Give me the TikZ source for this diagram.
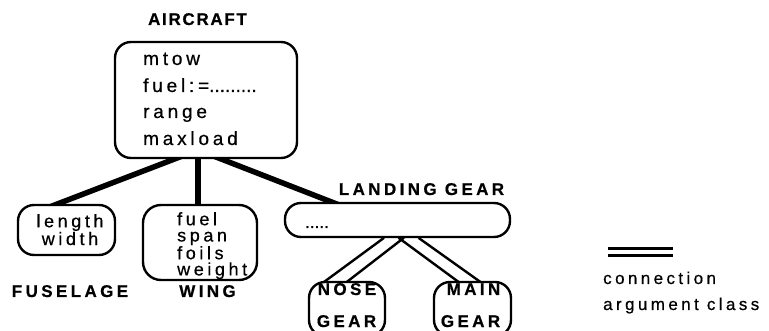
\documentclass[tikz,border=0pt]{standalone}
\usepackage{fontspec}
\setmainfont{Liberation Sans}[LetterSpace=20,FakeBold=0.6]
\newfontfamily\plainfont{Liberation Sans}[FakeBold=0.6]
\usetikzlibrary{calc,backgrounds}
\begin{document}
\begin{tikzpicture}[x=1pt,y=-1pt,
  box/.style={draw, line width=2.4pt, rounded corners=16pt, inner sep=0pt, fill=white},
  lbl/.style={font=\fontsize{17}{17}\selectfont\bfseries, inner sep=0pt, anchor=base},
  txt/.style={font=\fontsize{19}{19}\selectfont, inner sep=0pt, anchor=base west},
  sm/.style={font=\fontsize{18}{16.2}\selectfont, inner sep=0pt, anchor=north west},
  leg/.style={font=\fontsize{17}{17}\selectfont, inner sep=0pt, anchor=base west},
  thickconn/.style={line width=5.5pt},
  conn/.style={line width=2.4pt, shorten <=-4pt, shorten >=-4pt}]
\clip (0,0) rectangle (769,331);

% boxes
\node[box, minimum width=182pt, minimum height=116pt] (ac) at (206,100) {};
\node[box, minimum width=97pt, minimum height=50pt] (fus) at (66.5,230) {};
\node[box, minimum width=114pt, minimum height=75pt, rounded corners=18pt] (wing) at (200,242.5) {};
\node[box, minimum width=225pt, minimum height=34pt] (lg) at (397.5,220) {};
\node[box, minimum width=76pt, minimum height=54pt] (nose) at (347,309) {};
\node[box, minimum width=77pt, minimum height=54pt] (main) at (472.5,309) {};

% connectors
\begin{scope}[on background layer]
  \coordinate (apex) at (198,150);
  \draw[thickconn] (apex) -- ($(fus.north)+(-16.5,3)$);
  \draw[thickconn] (apex) -- ($(wing.north)+(-2,3)$);
  \draw[thickconn] (apex) -- ($(lg.north west)+(55,3)$);
  \draw[conn] ($(lg.south west)+(97,2)$) -- ($(nose.north west)+(11,5)$);
  \draw[conn] ($(lg.south west)+(117,2)$) -- ($(nose.north west)+(34,5)$);
  \draw[conn] ($(lg.south west)+(118,2)$) -- ($(main.north west)+(31,5)$);
  \draw[conn] ($(lg.south west)+(138,2)$) -- ($(main.north west)+(53,5)$);
\end{scope}

% texts
\node[lbl, font=\fontsize{17}{17}\selectfont\bfseries\addfontfeature{LetterSpace=10}] (acl) at (197.5,25) {AIRCRAFT};
\node[txt] (t1) at (143,65) {mtow};
\node[txt] (t2) at (143,92) {fuel:={\plainfont .........}};
\node[txt] (t3) at (143,118) {range};
\node[txt] (t4) at (143,145) {maxload};

\node[sm, align=center, anchor=north] (ft) at (70,214) {length\\width};
\node[sm, align=left] (wt) at (177,212) {fuel\\span\\foils\\weight};

\node[lbl] (fusl) at (70,297) {FUSELAGE};
\node[lbl] (wingl) at (207.5,297) {WING};
\node[lbl] (lgl) at (421.5,195) {LANDING GEAR};
\node[txt, font=\fontsize{17}{17}\selectfont\plainfont] (lgt) at (305,228) {.....};
\node[lbl] (n1) at (347,295) {NOSE};
\node[lbl] (n2) at (346.5,327) {GEAR};
\node[lbl] (m1) at (473.5,295) {MAIN};
\node[lbl] (m2) at (470.5,327) {GEAR};

% legend
\coordinate (lega) at (608,252);
\coordinate (legb) at (673,252);
\draw[line width=2.8pt, double, double distance=4pt] (lega) -- (legb);
\node[leg] (c1) at (603,284) {connection};
\node[leg] (c2) at (603,310) {argument class};
\end{tikzpicture}
\end{document}
